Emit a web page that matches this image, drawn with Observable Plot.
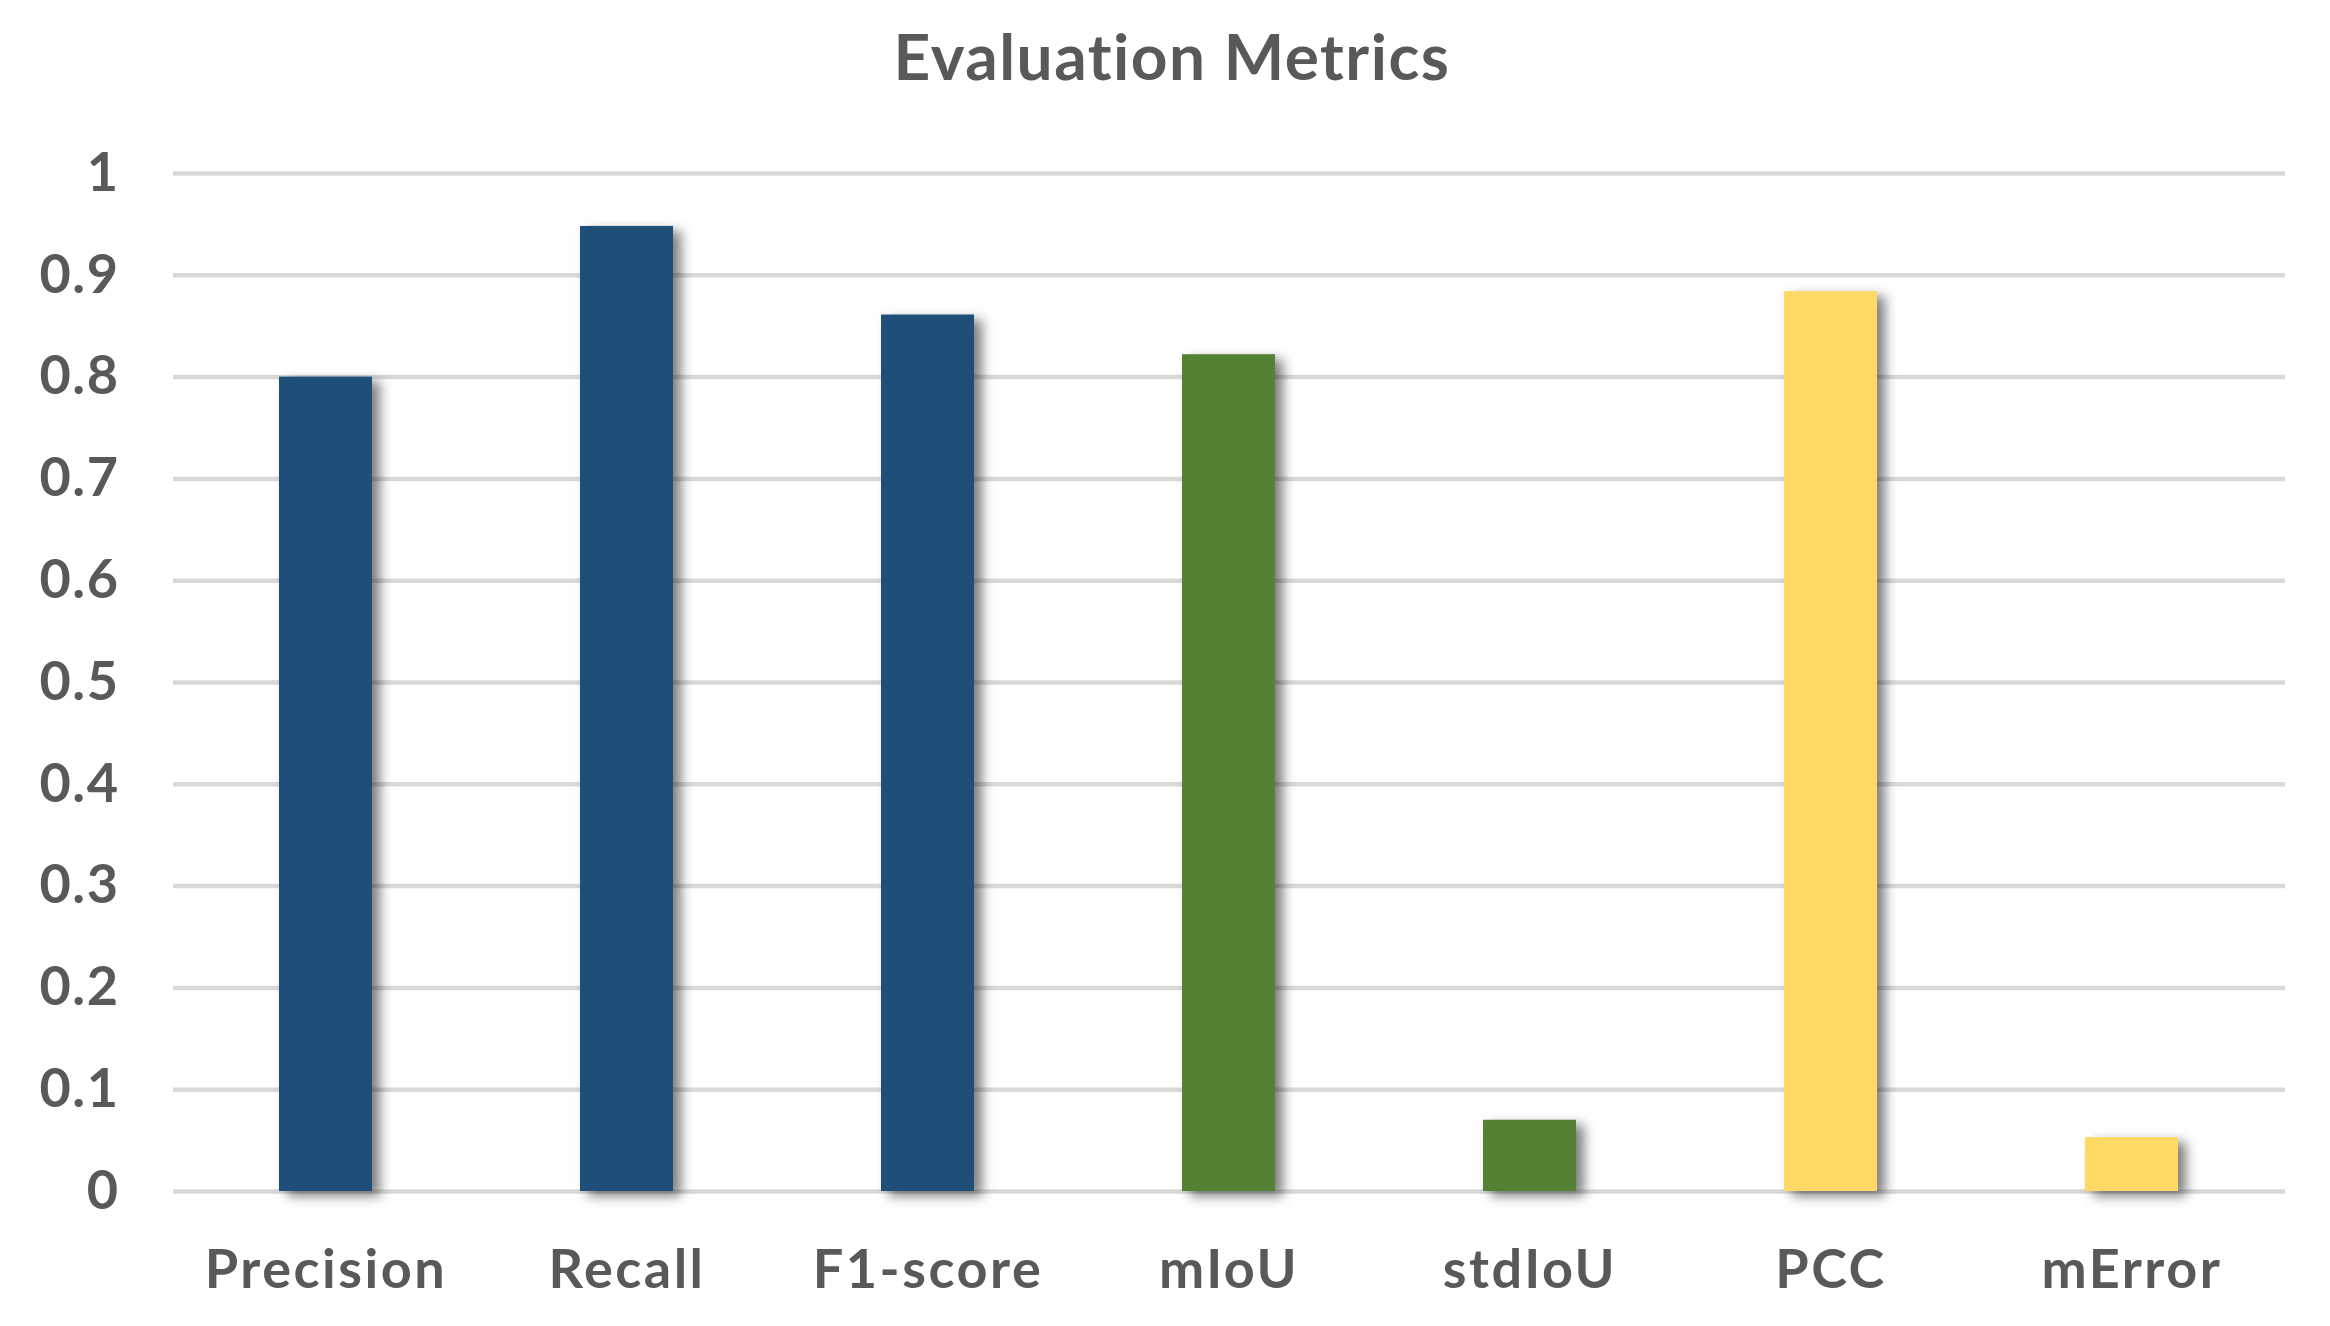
<!DOCTYPE html>
<html>
<head>
<meta charset="utf-8">
<script src="https://cdn.jsdelivr.net/npm/d3@7"></script>
<script src="https://cdn.jsdelivr.net/npm/@observablehq/plot@0.6"></script>
<style>
  html, body { margin: 0; padding: 0; background: #fff; }
  #title {
    width: 2316px; padding-left: 14px; height: 120px; line-height: 112px;
    text-align: center; font-family: Lato, "Open Sans", sans-serif;
    font-weight: 700; font-size: 64px; letter-spacing: 1.5px; color: #595959;
  }
  #chart svg { display: block; }
</style>
</head>
<body>
<div id="title">Evaluation Metrics</div>
<div id="chart"></div>
<script>
const categories = ["Precision", "Recall", "F1-score", "mIoU", "stdIoU", "PCC", "mError"];
const values = [0.800, 0.948, 0.861, 0.822, 0.070, 0.884, 0.053];
const groups = ["detection", "detection", "detection", "iou", "iou", "correlation", "correlation"];
const groupNames = ["detection", "iou", "correlation"];
const groupColors = ["#1F4E79", "#548235", "#FFD966"];
const yTicks = [0, 0.1, 0.2, 0.3, 0.4, 0.5, 0.6, 0.7, 0.8, 0.9, 1];

const data = categories.map((c, i) => ({category: c, value: values[i], group: groups[i]}));

const plot = Plot.plot({
  width: 2330,
  height: 1206,
  marginTop: 53,
  marginBottom: 135,
  marginLeft: 173,
  marginRight: 45,
  style: {fontFamily: "Lato, 'Open Sans', sans-serif", fontWeight: 700, fontSize: "54px", color: "#595959", background: "#fff"},
  x: {domain: categories, paddingInner: 0.69, paddingOuter: 0.345, label: null},
  y: {domain: [0, 1], label: null},
  color: {domain: groupNames, range: groupColors},
  marks: [
    Plot.gridY(yTicks, {stroke: "#D9D9D9", strokeOpacity: 1, strokeWidth: 4.5}),
    Plot.axisY(yTicks, {tickSize: 0, tickPadding: 54, tickFormat: d => String(+d.toFixed(1)), fill: "#595959", fontSize: 54}),
    Plot.axisX({tickSize: 0, tickPadding: 58, fill: "#595959", fontSize: 54}),
    Plot.barY(data, {x: "category", y: "value", fill: "group"})
  ]
});

const svg = d3.select(plot);
svg.selectAll("g[aria-label='bar']")
  .style("filter", "drop-shadow(8px 5px 6px rgba(0,0,0,0.5))");
svg.selectAll("g[aria-label='x-axis tick label'] text")
  .style("letter-spacing", "2.5px");
svg.selectAll("g[aria-label='y-axis tick label'] text")
  .style("letter-spacing", "1.5px");

document.getElementById("chart").appendChild(plot);
</script>
</body>
</html>
